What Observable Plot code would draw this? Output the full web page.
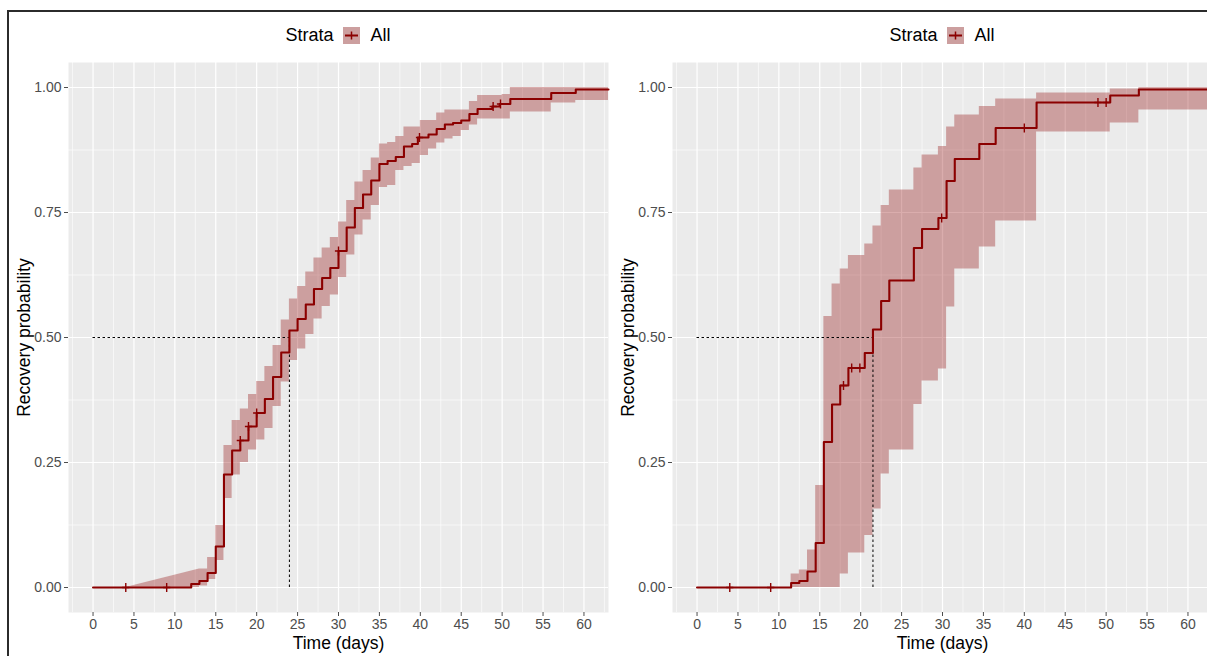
<!DOCTYPE html>
<html><head><meta charset="utf-8">
<script src="https://cdn.jsdelivr.net/npm/d3@7"></script>
<script src="https://cdn.jsdelivr.net/npm/@observablehq/plot@0.6"></script>
<style>
html,body{margin:0;padding:0;background:#fff;overflow:hidden;width:1207px;height:656px;}
body{position:relative;font-family:"Liberation Sans",Arial,sans-serif;}
.frame{position:absolute;left:7px;top:10px;width:1300px;height:700px;border-top:2px solid #2b2b2b;border-left:2px solid #2b2b2b;}
.legend{position:absolute;top:24px;height:22px;display:flex;align-items:center;justify-content:center;font-size:18px;color:#000;}
.legend svg{margin:0 11px 0 9px;}
.chart{position:absolute;top:52px;width:608px;height:604px;}
.chart svg{max-width:none !important;}
</style></head><body>
<div class="frame"></div>
<div id="root"></div>
<script>
// ---------- data ----------
const xTicks = [0, 5, 10, 15, 20, 25, 30, 35, 40, 45, 50, 55, 60];
const xMinor = [-2.5, 2.5, 7.5, 12.5, 17.5, 22.5, 27.5, 32.5, 37.5, 42.5, 47.5, 52.5, 57.5, 62.5];
const yTicks = [0, 0.25, 0.5, 0.75, 1];
const yMinor = [0.125, 0.375, 0.625, 0.875];
const strataLabel = "All";

// Left panel
const leftTime = [0, 12, 13, 14, 15, 16, 17, 18, 19, 20, 21, 22, 23, 24, 25, 26, 27, 28, 29, 30, 31, 32, 33, 34, 35, 36, 37, 38, 39, 39.7, 41, 42, 43, 44, 45, 46, 47, 48.8, 49.7, 51, 56, 59, 63];
const leftSurv = [0, 0.007, 0.013, 0.029, 0.082, 0.226, 0.274, 0.294, 0.322, 0.349, 0.377, 0.421, 0.47, 0.514, 0.537, 0.566, 0.597, 0.619, 0.639, 0.673, 0.72, 0.759, 0.786, 0.814, 0.847, 0.853, 0.861, 0.882, 0.887, 0.9, 0.906, 0.917, 0.926, 0.929, 0.934, 0.947, 0.957, 0.962, 0.967, 0.977, 0.989, 0.996, 0.996];
const leftRampTime = [4, 13];
const leftRampUpper = [0, 0.037];
const leftBandTime = [13, 14, 15, 16, 17, 18, 19, 20, 21, 22, 23, 24, 25, 26, 27, 28, 29, 30, 31, 32, 33, 34, 35, 36, 37, 38, 39, 40, 41, 42, 43, 44, 45, 46, 47, 48, 49, 50, 51, 56, 59, 63];
const leftUpper = [0.037, 0.06, 0.124, 0.284, 0.334, 0.357, 0.386, 0.412, 0.442, 0.484, 0.535, 0.577, 0.602, 0.631, 0.659, 0.679, 0.70, 0.731, 0.774, 0.811, 0.834, 0.859, 0.887, 0.89, 0.902, 0.921, 0.921, 0.934, 0.934, 0.949, 0.955, 0.955, 0.955, 0.972, 0.984, 0.984, 0.984, 0.986, 1.0, 1.0, 1.0, 1.0];
const leftLower = [0.003, 0.016, 0.054, 0.178, 0.225, 0.25, 0.275, 0.295, 0.318, 0.362, 0.411, 0.454, 0.477, 0.506, 0.537, 0.562, 0.585, 0.62, 0.665, 0.705, 0.735, 0.764, 0.80, 0.804, 0.834, 0.842, 0.848, 0.864, 0.877, 0.889, 0.897, 0.902, 0.914, 0.925, 0.937, 0.937, 0.937, 0.937, 0.951, 0.969, 0.974, 0.974];
const leftCensorTime = [4, 9, 18, 19, 20, 30, 39.9, 48.9, 49.8];
const leftCensorSurv = [0, 0, 0.294, 0.322, 0.349, 0.673, 0.9, 0.962, 0.967];
const leftMedian = 24;

// Right panel
const rightTime = [0, 11.5, 12.5, 13.5, 14.5, 15.5, 16.5, 17.5, 18.5, 20.5, 21.5, 22.5, 23.5, 26.5, 27.5, 29.5, 30.5, 31.5, 34.5, 36.5, 41.5, 50.5, 54, 63];
const rightSurv = [0, 0.009, 0.013, 0.032, 0.089, 0.291, 0.366, 0.404, 0.439, 0.469, 0.516, 0.573, 0.614, 0.679, 0.717, 0.739, 0.813, 0.857, 0.887, 0.919, 0.970, 0.984, 0.996, 0.996];
const rightBandTime = [11.5, 12.5, 13.5, 14.5, 15.5, 16.5, 17.5, 18.5, 20.5, 21.5, 22.5, 23.5, 26.5, 27.5, 29.5, 30.5, 31.5, 34.5, 36.5, 41.5, 50.5, 54, 63];
const rightUpper = [0.027, 0.035, 0.075, 0.204, 0.542, 0.607, 0.637, 0.664, 0.687, 0.723, 0.764, 0.795, 0.839, 0.865, 0.882, 0.921, 0.945, 0.962, 0.977, 0.989, 0.997, 1.0, 1.0];
const rightLower = [0, 0, 0, 0, 0, 0, 0.027, 0.069, 0.104, 0.157, 0.227, 0.275, 0.366, 0.413, 0.437, 0.561, 0.637, 0.681, 0.733, 0.911, 0.929, 0.955, 0.955];
const rightCensorTime = [4, 9, 17.9, 18.9, 19.9, 29.9, 40, 49, 50];
const rightCensorSurv = [0, 0, 0.404, 0.439, 0.439, 0.739, 0.919, 0.970, 0.970];
const rightMedian = 21.5;

// ---------- drawing ----------
const RED = "#8B0000";
const plusSymbol = {
  draw(ctx, size) {
    const r = Math.sqrt(size / Math.PI);
    ctx.moveTo(0, -r); ctx.lineTo(0, r);
    ctx.moveTo(-r * 0.8, 0); ctx.lineTo(r * 0.8, 0);
  }
};

function makePanel(cfg) {
  const medianSeg = [{x1: 0, x2: cfg.median, y: 0.5}];
  const medianV = [{x: cfg.median, y1: 0, y2: 0.5}];
  return Plot.plot({
    width: 608, height: 604,
    marginLeft: 68, marginRight: 0, marginTop: 10, marginBottom: 44,
    x: {domain: [-3, 63]},
    y: {domain: [-0.05, 1.05]},
    style: {background: "transparent", fontFamily: "'Liberation Sans', Arial, sans-serif", overflow: "visible", maxWidth: "none"},
    marks: [
      Plot.frame({fill: "#EBEBEB", stroke: null}),
      Plot.ruleX(xMinor, {stroke: "white", strokeWidth: 0.6}),
      Plot.ruleY(yMinor, {stroke: "white", strokeWidth: 0.6}),
      Plot.ruleX(xTicks, {stroke: "white", strokeWidth: 1.2}),
      Plot.ruleY(yTicks, {stroke: "white", strokeWidth: 1.2}),
      cfg.rampTime ? Plot.areaY(cfg.rampTime, {x: d => d, y1: cfg.rampTime.map(() => 0), y2: cfg.rampUpper, fill: RED, fillOpacity: 0.32}) : null,
      Plot.areaY(cfg.bandTime, {x: d => d, y1: cfg.lower, y2: cfg.upper, curve: "step-after", fill: RED, fillOpacity: 0.32}),
      Plot.ruleY(medianSeg, {x1: "x1", x2: "x2", y: "y", stroke: "#000", strokeWidth: 1, strokeDasharray: "2.5,2.5"}),
      Plot.ruleX(medianV, {x: "x", y1: "y1", y2: "y2", stroke: "#000", strokeWidth: 1, strokeDasharray: "2.5,2.5"}),
      Plot.line(cfg.time, {x: d => d, y: cfg.surv, curve: "step-after", stroke: RED, strokeWidth: 2.1}),
      Plot.dot(cfg.censorTime, {x: d => d, y: cfg.censorSurv, symbol: plusSymbol, r: 4.5, stroke: RED, strokeWidth: 1.4, fill: "none"}),
      Plot.axisX({ticks: xTicks, tickSize: 4, tickPadding: 3, fontSize: 14, color: "#4D4D4D", label: null}),
      Plot.axisY({ticks: yTicks, tickSize: 4, tickPadding: 3, fontSize: 14, color: "#4D4D4D", label: null, tickFormat: d => d.toFixed(2)}),
      Plot.text(["Time (days)"], {frameAnchor: "bottom", dy: 31, lineAnchor: "middle", textAnchor: "middle", fontSize: 17.5, fill: "#000"}),
      Plot.text(["Recovery probability"], {frameAnchor: "left", dx: -44, rotate: -90, lineAnchor: "middle", textAnchor: "middle", fontSize: 17.5, fill: "#000"})
    ]
  });
}

function legendKey() {
  const ns = "http://www.w3.org/2000/svg";
  const s = document.createElementNS(ns, "svg");
  s.setAttribute("width", 17); s.setAttribute("height", 17);
  s.innerHTML = `<rect width="17" height="17" fill="#EBEBEB"/>
    <rect width="17" height="17" fill="${RED}" fill-opacity="0.32"/>
    <line x1="2" x2="15" y1="8.5" y2="8.5" stroke="${RED}" stroke-width="2"/>
    <line x1="8.5" x2="8.5" y1="4.5" y2="12.5" stroke="${RED}" stroke-width="1.5"/>`;
  return s;
}

const root = document.getElementById("root");
const panels = [
  {left: 0, time: leftTime, surv: leftSurv, rampTime: leftRampTime, rampUpper: leftRampUpper, bandTime: leftBandTime, upper: leftUpper, lower: leftLower, censorTime: leftCensorTime, censorSurv: leftCensorSurv, median: leftMedian},
  {left: 604, time: rightTime, surv: rightSurv, rampTime: null, bandTime: rightBandTime, upper: rightUpper, lower: rightLower, censorTime: rightCensorTime, censorSurv: rightCensorSurv, median: rightMedian}
];
for (const p of panels) {
  const wrap = document.createElement("div");
  wrap.className = "chart";
  wrap.style.left = p.left + "px";
  const svg = makePanel(p);
  svg.style.maxWidth = "none";
  wrap.appendChild(svg);
  root.appendChild(wrap);

  const lg = document.createElement("div");
  lg.className = "legend";
  lg.style.left = (p.left + 68) + "px";
  lg.style.width = "540px";
  const s1 = document.createElement("span"); s1.textContent = "Strata";
  const s2 = document.createElement("span"); s2.textContent = strataLabel;
  lg.appendChild(s1); lg.appendChild(legendKey()); lg.appendChild(s2);
  root.appendChild(lg);
}
</script>
</body></html>
